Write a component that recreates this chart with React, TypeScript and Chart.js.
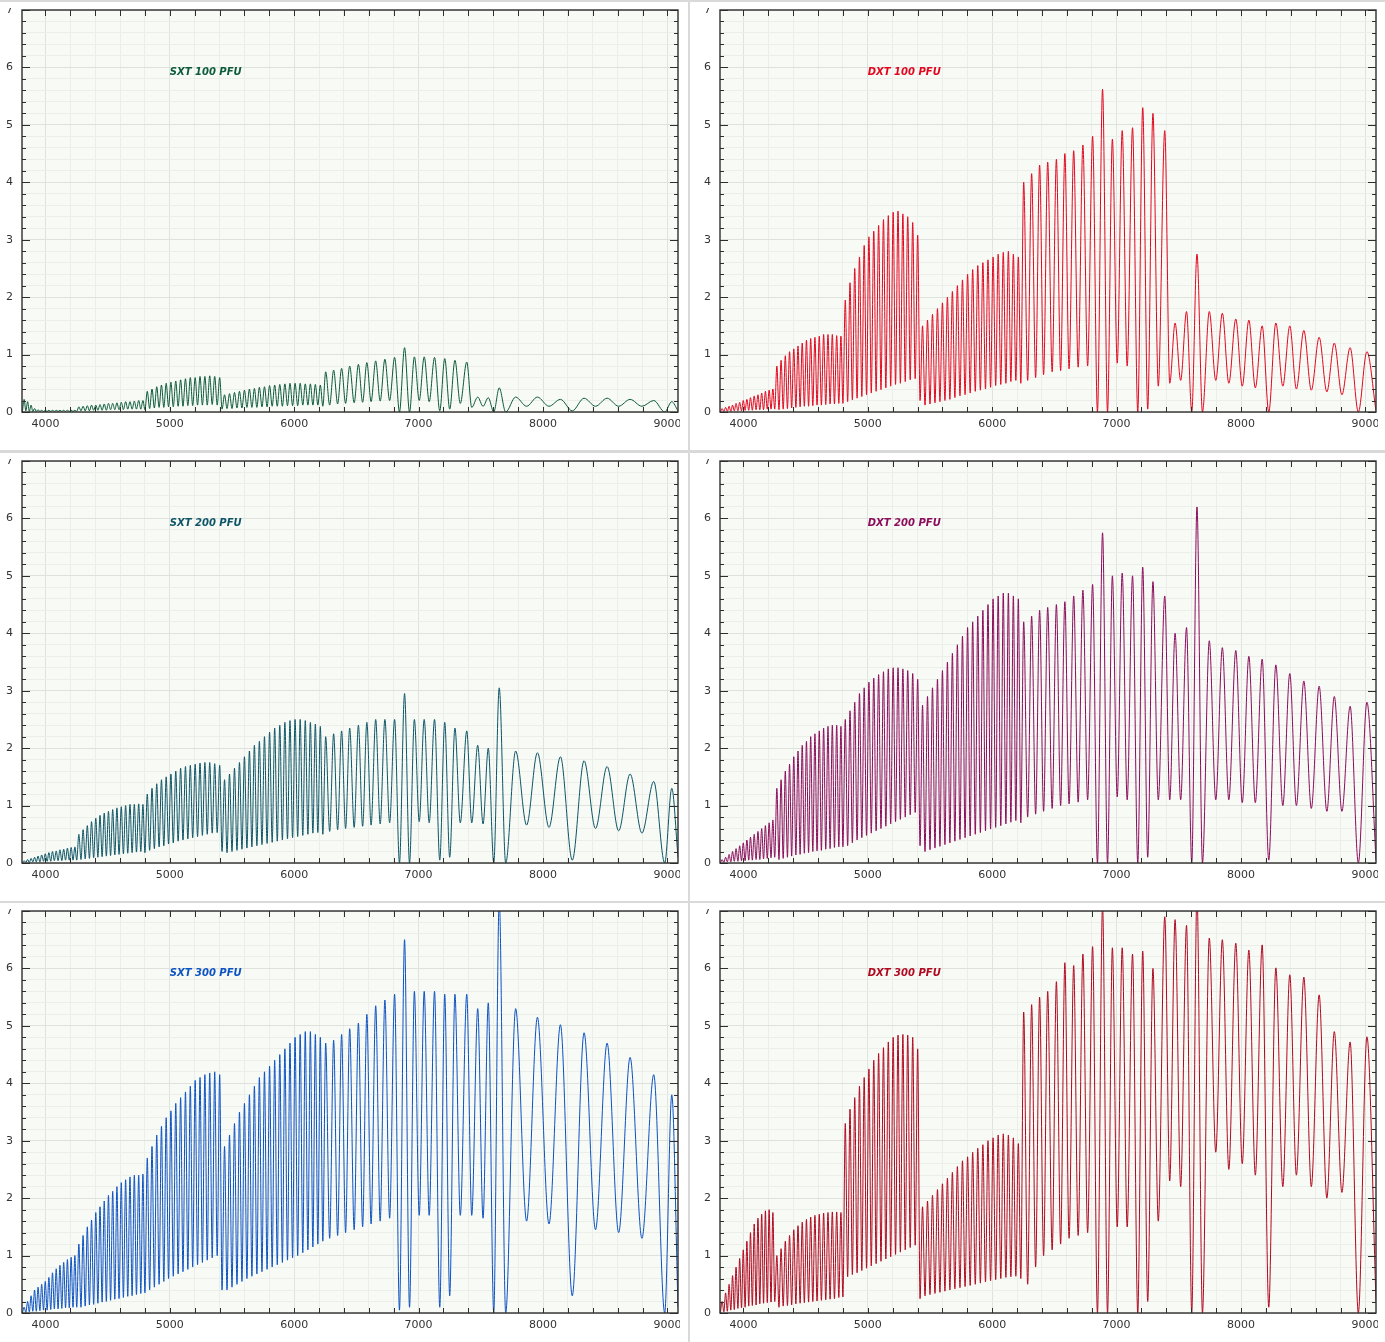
import { useEffect, useRef } from 'react';
import { Chart, registerables } from 'chart.js';

Chart.register(...registerables);

// order boundaries and blaze centres (Å); G1..G5 are common to both gratings
const innerEdges = [
  3815, 3843, 3871, 3899, 3927, 3956, 3985, 4014, 4043, 4072, 4102, 4132, 4162, 4192, 4222, 4252,
  4286, 4320, 4354, 4388, 4422, 4456, 4490, 4524, 4558, 4592, 4627, 4662, 4697, 4732, 4767, 4800,
  4838, 4876, 4914, 4952, 4990, 5028, 5067, 5106, 5145, 5184, 5223, 5262, 5301, 5341, 5381, 5420,
  5460, 5500, 5540, 5580, 5620, 5660, 5700, 5741, 5782, 5823, 5864, 5905, 5946, 5987, 6028, 6069, 6110, 6150, 6190, 6230,
  6285, 6349, 6413, 6482, 6550, 6618, 6691, 6767, 6846, 6927, 7005, 7085, 7170, 7250, 7335,
];
const innerCentres = [
  3829, 3857, 3885, 3913, 3941, 3970, 3999, 4028, 4057, 4087, 4117, 4147, 4177, 4207, 4237,
  4269, 4303, 4337, 4371, 4405, 4439, 4473, 4507, 4541, 4575, 4610, 4645, 4680, 4715, 4750, 4784,
  4819, 4857, 4895, 4933, 4971, 5009, 5048, 5087, 5126, 5165, 5204, 5243, 5282, 5321, 5361, 5401,
  5440, 5480, 5520, 5560, 5600, 5640, 5680, 5720, 5761, 5802, 5843, 5884, 5925, 5966, 6007, 6048, 6089, 6130, 6170, 6210,
  6253, 6317, 6381, 6446, 6516, 6584, 6655, 6729, 6807, 6887, 6966, 7045, 7128, 7210, 7292,
];
const sxtRedEdges = [7427, 7518, 7604, 7700, 7868, 8048, 8235, 8422, 8608, 8795, 8978, 9085];
const sxtRedCentres = [7387, 7475, 7560, 7648, 7780, 7955, 8140, 8330, 8515, 8700, 8890, 9035];
const dxtRedEdges = [7427, 7515, 7604, 7690, 7797, 7902, 8010, 8115, 8223, 8336, 8445, 8565, 8690, 8811, 8943, 9085];
const dxtRedCentres = [7387, 7470, 7562, 7646, 7745, 7850, 7958, 8063, 8170, 8280, 8392, 8505, 8628, 8750, 8877, 9012];

const sxtEdges = [...innerEdges, ...sxtRedEdges];
const sxtCentres = [...innerCentres, ...sxtRedCentres];
const dxtEdges = [...innerEdges, ...dxtRedEdges];
const dxtCentres = [...innerCentres, ...dxtRedCentres];

// flux at order edges (lows) and blaze peaks
const sxt100Lows = [
  0, 0.02, 0.01, 0.01, 0.01, 0.01, 0.01, 0.01, 0.01, 0.01, 0.01, 0.01, 0.01, 0.01, 0.01, 0.01,
  0.02, 0.02, 0.02, 0.03, 0.03, 0.03, 0.03, 0.04, 0.04, 0.04, 0.04, 0.05, 0.05, 0.05, 0.05, 0.04,
  0.06, 0.07, 0.08, 0.08, 0.09, 0.09, 0.1, 0.1, 0.11, 0.11, 0.12, 0.12, 0.12, 0.13, 0.12, 0.05,
  0.06, 0.06, 0.07, 0.07, 0.08, 0.08, 0.08, 0.09, 0.09, 0.1, 0.1, 0.1, 0.11, 0.11, 0.11, 0.12, 0.12, 0.12, 0.12, 0.1,
  0.12, 0.14, 0.15, 0.16, 0.17, 0.18, 0.19, 0.2, 0, 0, 0.2, 0.18, 0.02, 0.05, 0.15,
  0.08, 0.1, 0, 0, 0.1, 0.1, 0.02, 0.1, 0.1, 0.1, 0, 0.02,
];
const sxt100Peaks = [
  0.22, 0.18, 0.12, 0.06, 0.04, 0.03, 0.03, 0.03, 0.03, 0.03, 0.03, 0.03, 0.03, 0.03, 0.03,
  0.09, 0.1, 0.11, 0.12, 0.12, 0.13, 0.14, 0.15, 0.15, 0.16, 0.17, 0.18, 0.18, 0.19, 0.2, 0.2,
  0.36, 0.4, 0.44, 0.47, 0.5, 0.52, 0.54, 0.56, 0.58, 0.6, 0.6, 0.62, 0.62, 0.63, 0.62, 0.6,
  0.3, 0.32, 0.34, 0.36, 0.38, 0.4, 0.41, 0.43, 0.44, 0.46, 0.47, 0.48, 0.49, 0.5, 0.5, 0.5, 0.49, 0.49, 0.48, 0.47,
  0.7, 0.73, 0.76, 0.8, 0.83, 0.86, 0.89, 0.92, 0.95, 1.12, 0.96, 0.96, 0.95, 0.93, 0.9,
  0.87, 0.26, 0.25, 0.42, 0.26, 0.26, 0.22, 0.24, 0.24, 0.22, 0.2, 0.18,
];

const dxt100Lows = [
  0, 0.01, 0.01, 0.01, 0.02, 0.02, 0.02, 0.03, 0.03, 0.03, 0.04, 0.04, 0.04, 0.05, 0.05, 0.05,
  0.04, 0.05, 0.06, 0.07, 0.08, 0.09, 0.1, 0.1, 0.11, 0.12, 0.12, 0.13, 0.14, 0.14, 0.15, 0.15,
  0.18, 0.21, 0.24, 0.27, 0.3, 0.33, 0.36, 0.39, 0.42, 0.45, 0.48, 0.5, 0.53, 0.56, 0.58, 0.2,
  0.12, 0.14, 0.16, 0.18, 0.2, 0.22, 0.25, 0.28, 0.3, 0.33, 0.36, 0.38, 0.4, 0.43, 0.46, 0.48, 0.5, 0.53, 0.55, 0.5,
  0.55, 0.6, 0.65, 0.7, 0.72, 0.75, 0.78, 0.8, 0, 0, 0.85, 0.8, 0, 0.05, 0.45,
  0.5, 0.55, 0, 0, 0.55, 0.5, 0.45, 0.42, 0, 0.45, 0.4, 0.38, 0.35, 0.3, 0, 0.02,
];
const dxt100Peaks = [
  0.06, 0.08, 0.1, 0.12, 0.15, 0.17, 0.2, 0.22, 0.25, 0.28, 0.3, 0.33, 0.36, 0.38, 0.4,
  0.8, 0.9, 0.98, 1.05, 1.1, 1.15, 1.2, 1.25, 1.28, 1.3, 1.32, 1.35, 1.35, 1.35, 1.33, 1.32,
  1.95, 2.25, 2.5, 2.7, 2.9, 3.05, 3.15, 3.25, 3.35, 3.42, 3.48, 3.5, 3.45, 3.4, 3.3, 3.08,
  1.5, 1.6, 1.7, 1.8, 1.9, 2.0, 2.1, 2.2, 2.3, 2.4, 2.48, 2.55, 2.6, 2.65, 2.7, 2.75, 2.78, 2.8, 2.75, 2.7,
  4.0, 4.15, 4.3, 4.35, 4.4, 4.5, 4.55, 4.65, 4.8, 5.62, 4.75, 4.9, 4.95, 5.3, 5.2,
  4.9, 1.55, 1.75, 2.75, 1.75, 1.72, 1.62, 1.6, 1.5, 1.55, 1.5, 1.42, 1.3, 1.2, 1.12, 1.05,
];

const sxt200Lows = [
  0, 0.01, 0.01, 0.02, 0.02, 0.02, 0.03, 0.03, 0.03, 0.04, 0.04, 0.04, 0.05, 0.05, 0.05, 0.05,
  0.06, 0.07, 0.08, 0.09, 0.1, 0.11, 0.12, 0.13, 0.14, 0.15, 0.16, 0.17, 0.18, 0.19, 0.2, 0.18,
  0.22, 0.25, 0.28, 0.3, 0.33, 0.35, 0.38, 0.4, 0.42, 0.44, 0.46, 0.48, 0.5, 0.52, 0.53, 0.2,
  0.18, 0.2, 0.22, 0.24, 0.26, 0.28, 0.3, 0.32, 0.34, 0.36, 0.38, 0.4, 0.42, 0.44, 0.46, 0.48, 0.5, 0.52, 0.53, 0.5,
  0.55, 0.58, 0.6, 0.62, 0.64, 0.66, 0.68, 0.7, 0, 0, 0.72, 0.7, 0.05, 0.1, 0.7,
  0.7, 0.68, 0, 0, 0.66, 0.62, 0.05, 0.6, 0.56, 0.52, 0, 0.1,
];
const sxt200Peaks = [
  0.04, 0.06, 0.08, 0.1, 0.12, 0.14, 0.16, 0.18, 0.2, 0.21, 0.23, 0.24, 0.26, 0.27, 0.28,
  0.5, 0.58, 0.65, 0.72, 0.78, 0.83, 0.87, 0.9, 0.93, 0.96, 0.98, 1.0, 1.02, 1.02, 1.03, 1.02,
  1.2, 1.3, 1.38, 1.45, 1.5, 1.55, 1.6, 1.65, 1.68, 1.7, 1.72, 1.74, 1.75, 1.75, 1.73, 1.7,
  1.45, 1.55, 1.65, 1.75, 1.85, 1.95, 2.05, 2.12, 2.2, 2.28, 2.35, 2.4, 2.45, 2.48, 2.5, 2.5, 2.48, 2.45, 2.42, 2.38,
  2.2, 2.25, 2.3, 2.35, 2.4, 2.45, 2.5, 2.5, 2.5, 2.95, 2.5, 2.5, 2.5, 2.45, 2.35,
  2.3, 2.05, 2.0, 3.05, 1.95, 1.92, 1.85, 1.78, 1.68, 1.55, 1.42, 1.3,
];

const dxt200Lows = [
  0, 0.01, 0.02, 0.02, 0.03, 0.03, 0.04, 0.04, 0.05, 0.05, 0.06, 0.06, 0.07, 0.08, 0.09, 0.1,
  0.06, 0.08, 0.1, 0.12, 0.14, 0.15, 0.17, 0.18, 0.2, 0.21, 0.22, 0.24, 0.25, 0.27, 0.28, 0.28,
  0.3, 0.35, 0.4, 0.44, 0.48, 0.52, 0.56, 0.6, 0.64, 0.68, 0.72, 0.76, 0.8, 0.84, 0.88, 0.3,
  0.2, 0.23, 0.26, 0.29, 0.32, 0.35, 0.38, 0.41, 0.44, 0.47, 0.5, 0.53, 0.56, 0.59, 0.62, 0.65, 0.68, 0.71, 0.74, 0.7,
  0.8, 0.85, 0.9, 0.95, 1.0, 1.03, 1.06, 1.1, 0, 0, 1.15, 1.1, 0, 0.1, 1.1,
  1.1, 1.1, 0, 0, 1.1, 1.1, 1.05, 1.05, 0.05, 1.0, 1.0, 0.95, 0.9, 0.9, 0, 0.05,
];
const dxt200Peaks = [
  0.06, 0.1, 0.15, 0.2, 0.25, 0.3, 0.35, 0.4, 0.45, 0.5, 0.55, 0.6, 0.65, 0.7, 0.75,
  1.3, 1.45, 1.6, 1.72, 1.85, 1.95, 2.05, 2.12, 2.2, 2.25, 2.3, 2.35, 2.38, 2.4, 2.4, 2.38,
  2.5, 2.65, 2.8, 2.95, 3.05, 3.15, 3.22, 3.28, 3.33, 3.38, 3.4, 3.4, 3.38, 3.35, 3.3, 3.2,
  2.75, 2.9, 3.05, 3.2, 3.35, 3.5, 3.65, 3.8, 3.95, 4.1, 4.2, 4.3, 4.4, 4.5, 4.6, 4.65, 4.7, 4.7, 4.65, 4.6,
  4.2, 4.3, 4.4, 4.45, 4.5, 4.55, 4.65, 4.75, 4.85, 5.75, 5.0, 5.05, 5.0, 5.15, 4.9,
  4.65, 4.0, 4.1, 6.2, 3.87, 3.75, 3.7, 3.6, 3.55, 3.45, 3.3, 3.17, 3.08, 2.9, 2.73, 2.8,
];

const sxt300Lows = [
  0, 0.01, 0.02, 0.03, 0.03, 0.04, 0.05, 0.05, 0.06, 0.07, 0.07, 0.08, 0.09, 0.09, 0.1, 0.1,
  0.1, 0.12, 0.14, 0.15, 0.17, 0.19, 0.2, 0.22, 0.24, 0.25, 0.27, 0.29, 0.3, 0.32, 0.34, 0.35,
  0.4, 0.45, 0.5, 0.55, 0.6, 0.64, 0.68, 0.72, 0.76, 0.8, 0.84, 0.88, 0.92, 0.96, 1.0, 0.4,
  0.4, 0.45, 0.5, 0.55, 0.6, 0.64, 0.68, 0.72, 0.76, 0.8, 0.84, 0.88, 0.92, 0.96, 1.0, 1.05, 1.1, 1.15, 1.2, 1.25,
  1.3, 1.35, 1.4, 1.45, 1.5, 1.55, 1.6, 1.65, 0.05, 0.1, 1.7, 1.7, 0.1, 0.3, 1.7,
  1.7, 1.65, 0, 0, 1.6, 1.55, 0.3, 1.45, 1.4, 1.3, 0, 0.1,
];
const sxt300Peaks = [
  0.1, 0.2, 0.3, 0.4, 0.45, 0.5, 0.55, 0.62, 0.7, 0.77, 0.83, 0.88, 0.93, 0.97, 1.0,
  1.2, 1.35, 1.5, 1.62, 1.75, 1.85, 1.95, 2.05, 2.12, 2.2, 2.27, 2.32, 2.37, 2.4, 2.4, 2.42,
  2.7, 2.9, 3.1, 3.25, 3.4, 3.52, 3.65, 3.75, 3.85, 3.95, 4.05, 4.1, 4.15, 4.18, 4.2, 4.15,
  2.9, 3.1, 3.3, 3.5, 3.65, 3.8, 3.95, 4.1, 4.2, 4.3, 4.4, 4.5, 4.6, 4.7, 4.8, 4.85, 4.9, 4.9, 4.85, 4.8,
  4.7, 4.75, 4.85, 4.95, 5.05, 5.2, 5.35, 5.45, 5.55, 6.5, 5.6, 5.6, 5.6, 5.55, 5.55,
  5.55, 5.3, 5.4, 7.2, 5.3, 5.15, 5.02, 4.88, 4.7, 4.45, 4.15, 3.8,
];

const dxt300Lows = [
  0, 0.02, 0.03, 0.05, 0.06, 0.08, 0.09, 0.1, 0.12, 0.13, 0.14, 0.16, 0.17, 0.18, 0.19, 0.2,
  0.1, 0.12, 0.13, 0.14, 0.16, 0.17, 0.18, 0.19, 0.2, 0.21, 0.22, 0.23, 0.24, 0.25, 0.27, 0.28,
  0.63, 0.67, 0.7, 0.74, 0.78, 0.82, 0.86, 0.9, 0.94, 0.98, 1.02, 1.06, 1.1, 1.14, 1.18, 0.25,
  0.3, 0.32, 0.34, 0.36, 0.38, 0.4, 0.42, 0.44, 0.46, 0.48, 0.5, 0.52, 0.54, 0.56, 0.58, 0.6, 0.62, 0.63, 0.64, 0.6,
  0.5, 0.8, 1.0, 1.1, 1.2, 1.3, 1.35, 1.4, 0, 0, 1.5, 1.5, 0, 0.2, 1.6,
  2.3, 2.2, 0, 0, 2.8, 2.5, 2.6, 2.4, 0.1, 2.2, 2.4, 2.2, 2.0, 2.1, 0, 0.2,
];
const dxt300Peaks = [
  0.2, 0.35, 0.5, 0.65, 0.8, 0.95, 1.1, 1.25, 1.4, 1.55, 1.65, 1.72, 1.78, 1.8, 1.75,
  1.0, 1.12, 1.25, 1.35, 1.45, 1.52, 1.58, 1.63, 1.67, 1.7, 1.72, 1.74, 1.75, 1.76, 1.76, 1.75,
  3.3, 3.55, 3.75, 3.95, 4.1, 4.25, 4.4, 4.52, 4.62, 4.72, 4.8, 4.84, 4.85, 4.84, 4.8, 4.6,
  1.85, 1.95, 2.05, 2.15, 2.25, 2.35, 2.45, 2.55, 2.65, 2.72, 2.8, 2.87, 2.93, 3.0, 3.05, 3.1, 3.12, 3.1, 3.05, 2.95,
  5.24, 5.37, 5.5, 5.6, 5.77, 6.1, 6.05, 6.25, 6.38, 7.1, 6.36, 6.36, 6.25, 6.3, 6.0,
  6.9, 6.85, 6.75, 7.3, 6.53, 6.5, 6.44, 6.32, 6.41, 6.01, 5.89, 5.85, 5.54, 4.9, 4.72, 4.81,
];

type PanelSpec = {
  title: string;
  color: string;
  edges: number[];
  centres: number[];
  lows: number[];
  peaks: number[];
};

const panels: PanelSpec[] = [
  { title: 'SXT 100 PFU', color: '#0b5a38', edges: sxtEdges, centres: sxtCentres, lows: sxt100Lows, peaks: sxt100Peaks },
  { title: 'DXT 100 PFU', color: '#e2071f', edges: dxtEdges, centres: dxtCentres, lows: dxt100Lows, peaks: dxt100Peaks },
  { title: 'SXT 200 PFU', color: '#0d5566', edges: sxtEdges, centres: sxtCentres, lows: sxt200Lows, peaks: sxt200Peaks },
  { title: 'DXT 200 PFU', color: '#8a0c5b', edges: dxtEdges, centres: dxtCentres, lows: dxt200Lows, peaks: dxt200Peaks },
  { title: 'SXT 300 PFU', color: '#0c52c2', edges: sxtEdges, centres: sxtCentres, lows: sxt300Lows, peaks: sxt300Peaks },
  { title: 'DXT 300 PFU', color: '#b0081f', edges: dxtEdges, centres: dxtCentres, lows: dxt300Lows, peaks: dxt300Peaks },
];

const isWhole = (v: number) => Math.abs(v - Math.round(v)) < 1e-6;

// plot background, inward tick marks, frame and in-plot title
const framePlugin = {
  id: 'frame',
  beforeDraw(chart: any) {
    const { ctx, chartArea: a } = chart;
    ctx.save();
    ctx.fillStyle = '#f8faf6';
    ctx.fillRect(a.left, a.top, a.right - a.left, a.bottom - a.top);
    ctx.restore();
  },
  afterDraw(chart: any, _args: any, opts: any) {
    const { ctx, chartArea: a, scales } = chart;
    const xs = scales.x;
    const ys = scales.y;
    ctx.save();
    ctx.strokeStyle = '#2e2e2e';
    ctx.lineWidth = 1;
    ctx.beginPath();
    for (const t of xs.ticks) {
      if (t.value % 200 !== 0) continue;
      const px = Math.round(xs.getPixelForValue(t.value)) + 0.5;
      ctx.moveTo(px, a.bottom);
      ctx.lineTo(px, a.bottom - 5);
      ctx.moveTo(px, a.top);
      ctx.lineTo(px, a.top + 6);
    }
    for (const t of ys.ticks) {
      const py = Math.round(ys.getPixelForValue(t.value)) + 0.5;
      const len = isWhole(t.value) ? 8 : 4;
      ctx.moveTo(a.left, py);
      ctx.lineTo(a.left + len, py);
      ctx.moveTo(a.right, py);
      ctx.lineTo(a.right - len, py);
    }
    ctx.stroke();
    ctx.lineWidth = 1.4;
    ctx.strokeRect(a.left, a.top, a.right - a.left, a.bottom - a.top);
    ctx.fillStyle = opts.color;
    ctx.font = 'italic bold 10px "DejaVu Sans"';
    ctx.textBaseline = 'middle';
    ctx.fillText(opts.title, xs.getPixelForValue(5000), ys.getPixelForValue(5.92));
    ctx.restore();
  },
};

function SpectrumPanel({ spec, left, top }: { spec: PanelSpec; left: number; top: number }) {
  const canvasRef = useRef<HTMLCanvasElement | null>(null);

  useEffect(() => {
    if (!canvasRef.current) return;
    const points: { x: number; y: number }[] = [];
    spec.centres.forEach((c, i) => {
      points.push({ x: spec.edges[i], y: spec.lows[i] });
      points.push({ x: c, y: spec.peaks[i] });
    });
    const n = spec.centres.length;
    points.push({ x: spec.edges[n], y: spec.lows[n] });

    const tickFont = { family: '"DejaVu Sans"', size: 11 };
    const chart = new Chart(canvasRef.current, {
      type: 'line',
      data: {
        datasets: [
          {
            data: points,
            borderColor: spec.color,
            borderWidth: 1,
            pointRadius: 0,
            cubicInterpolationMode: 'monotone',
            fill: false,
          },
        ],
      },
      options: {
        animation: false,
        responsive: false,
        events: [],
        layout: { autoPadding: false, padding: { top: 2, right: 2, left: 0, bottom: 0 } },
        plugins: {
          legend: { display: false },
          tooltip: { enabled: false },
          frame: { title: spec.title, color: spec.color },
        } as any,
        scales: {
          x: {
            type: 'linear',
            min: 3812,
            max: 9085,
            afterFit: (s: any) => {
              s.height = 38;
              s.paddingLeft = 0;
              s.paddingRight = 0;
            },
            border: { display: false },
            grid: {
              drawTicks: false,
              color: (c: any) => (c.tick && c.tick.value % 1000 === 0 ? '#e0e2de' : '#eceeea'),
            },
            ticks: {
              stepSize: 200,
              includeBounds: false,
              autoSkip: false,
              maxRotation: 0,
              padding: 6,
              color: '#333',
              font: tickFont,
              callback: (v: any) => (v % 1000 === 0 ? String(v) : ''),
            },
          },
          y: {
            type: 'linear',
            min: 0,
            max: 7,
            afterFit: (s: any) => {
              s.width = 30;
              s.paddingTop = 0;
              s.paddingBottom = 0;
            },
            border: { display: false },
            grid: {
              drawTicks: false,
              color: (c: any) => (c.tick && isWhole(c.tick.value) ? '#dfe1dd' : '#eceeea'),
            },
            ticks: {
              stepSize: 0.2,
              autoSkip: false,
              padding: 9,
              color: '#333',
              font: tickFont,
              callback: (v: any) => (isWhole(v) ? String(Math.round(v)) : ''),
            },
          },
        },
      } as any,
      plugins: [framePlugin],
    });
    return () => {
      chart.destroy();
    };
  }, [spec]);

  return (
    <div
      style={{
        position: 'absolute',
        left,
        top,
        width: 696,
        height: 448,
        background: '#ffffff',
        overflow: 'hidden',
      }}
    >
      <canvas
        ref={canvasRef}
        width={688}
        height={442}
        style={{ position: 'absolute', left: 0, top: 6, width: 688, height: 442 }}
      />
    </div>
  );
}

export default function App() {
  return (
    <div
      style={{
        position: 'relative',
        width: 1385,
        height: 1342,
        overflow: 'hidden',
        background: '#d9d9d9',
      }}
    >
      <style>{'body{margin:0}'}</style>
      {panels.map((p, i) => {
        const col = i % 2;
        const row = Math.floor(i / 2);
        return (
          <SpectrumPanel
            key={p.title}
            spec={p}
            left={-8 + col * 698}
            top={Math.round(row * 450.5) + 2}
          />
        );
      })}
    </div>
  );
}
